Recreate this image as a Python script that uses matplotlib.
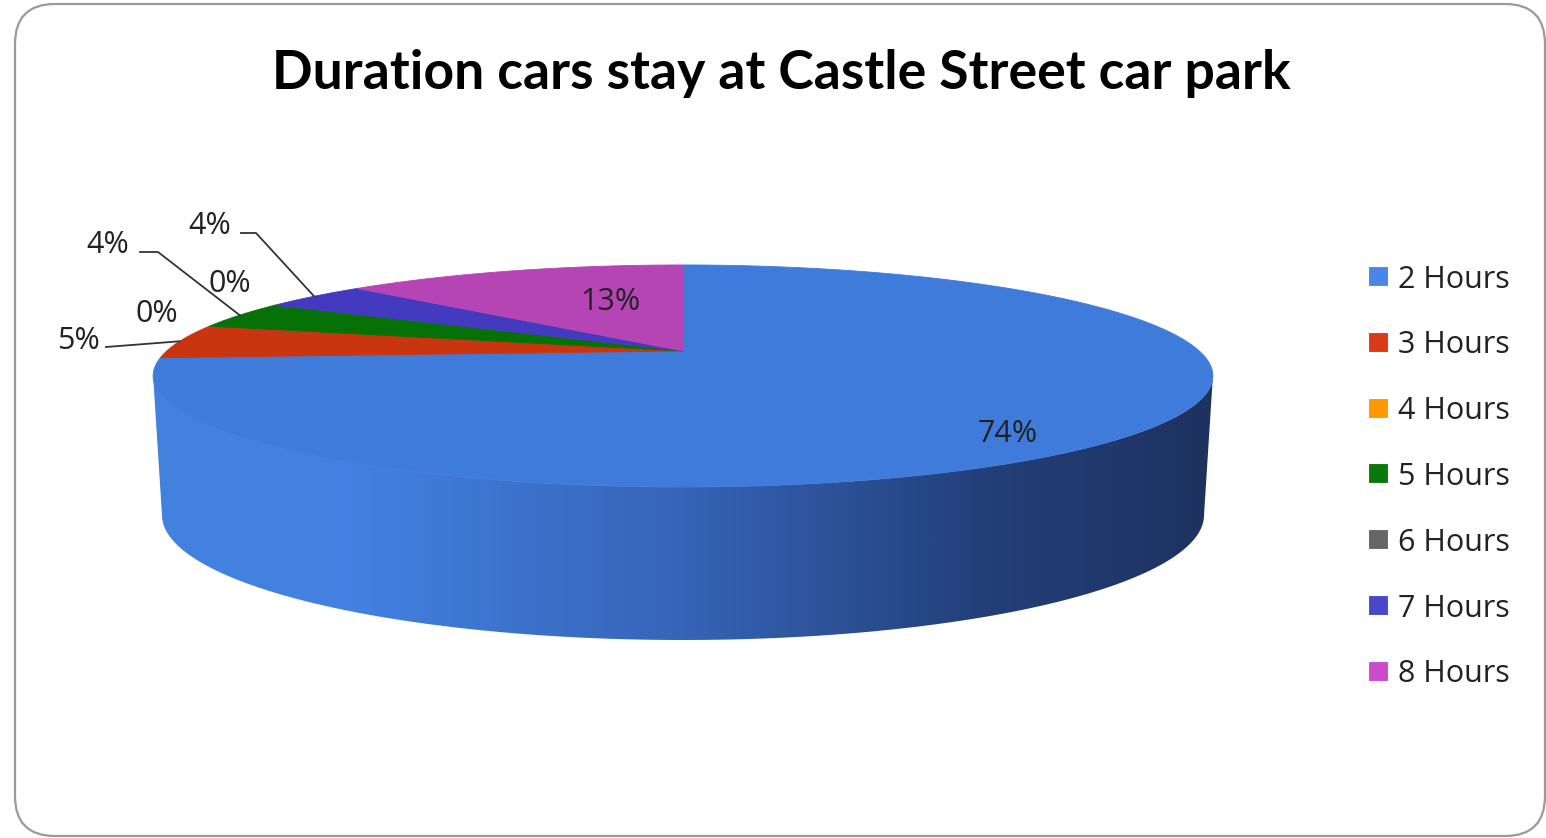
import matplotlib.pyplot as plt
import numpy as np
from matplotlib.patches import Polygon, FancyBboxPatch, Rectangle
from matplotlib.colors import LinearSegmentedColormap

categories = ['2 Hours', '3 Hours', '4 Hours', '5 Hours', '6 Hours', '7 Hours', '8 Hours']
shares = [74, 5, 0, 4, 0, 4, 13]
pct_labels = ['74%', '5%', '0%', '4%', '0%', '4%', '13%']
top_colors = ['#3f7bdb', '#c9350f', '#f08c00', '#067106', '#606060', '#433abf', '#b545b5']
legend_colors = ['#4a86e8', '#d93a17', '#ff9900', '#0a780a', '#666666', '#4848cc', '#cc4acc']
title = 'Duration cars stay at Castle Street car park'

# pie geometry in pixel space (perspective ellipse: top face and bottom face)
CX = 683
TOP = dict(cy=351, a=516.3, b=105.4, k=0.225)
BOT = dict(cy=490, a=510.5, b=120.0, k=0.2)

# label layout (pixel x-centre and baseline of text), and leader elbows
label_pos = [(1008, 442), (78, 349), (157, 322), (108, 253), (230, 292), (210, 234), (610, 310)]
leaders = {1: [(106, 347)], 3: [(140, 252), (158, 252)], 5: [(241, 233), (256, 233)]}

FONT = 'Open Sans'
FS = 22

side_cmap = LinearSegmentedColormap.from_list(
    'side', [(0.0, '#4381df'), (0.18, '#4382e2'), (0.5, '#3664b8'),
             (0.78, '#23407a'), (1.0, '#1e3260')])


def project(theta, face, r=1.0):
    X = r * np.sin(theta)
    Y = r * np.cos(theta)
    d = 1 + face['k'] * Y
    return CX + face['a'] * X / d, face['cy'] - face['b'] * Y / d


fig = plt.figure(figsize=(15.46, 8.38), dpi=100)
ax = fig.add_axes([0, 0, 1, 1])
ax.axis('off')

frame = FancyBboxPatch((15, 4), 1530, 832, boxstyle='round,pad=0,rounding_size=40',
                       fc='white', ec='#9a9a9a', lw=1.6, zorder=0)
ax.add_patch(frame)

fracs = np.array(shares, dtype=float) / sum(shares)
bounds = np.concatenate([[0], np.cumsum(fracs)]) * 2 * np.pi

# side of the cylinder: silhouette between the tangent points, filled with a gradient
tt = np.arccos(-TOP['k'])
tb = np.arccos(-BOT['k'])
top_arc = [project(t, TOP) for t in np.linspace(tt, 2 * np.pi - tt, 300)]
bot_arc = [project(t, BOT) for t in np.linspace(2 * np.pi - tb, tb, 300)]
side = Polygon(top_arc + bot_arc, closed=True, fc='none', ec='none')
ax.add_patch(side)
x_left = min(p[0] for p in top_arc)
x_right = max(p[0] for p in top_arc)
grad = np.linspace(0, 1, 512).reshape(1, -1)
im = ax.imshow(grad, cmap=side_cmap, aspect='auto', interpolation='bilinear',
               extent=(x_left, x_right, 700, 300), zorder=1)
im.set_clip_path(side)
ax.set_xlim(0, 1546)
ax.set_ylim(838, 0)

# top face
for i in range(len(shares)):
    t0, t1 = bounds[i], bounds[i + 1]
    if t1 - t0 <= 0:
        continue
    ts = np.linspace(t0, t1, max(3, int(np.degrees(t1 - t0))))
    pts = [(CX, TOP['cy'])] + [project(t, TOP) for t in ts]
    ax.add_patch(Polygon(pts, closed=True, fc=top_colors[i], ec=top_colors[i], lw=0.6, zorder=2))

# data labels and leader lines
for i, (lab, (lx, ly)) in enumerate(zip(pct_labels, label_pos)):
    ax.text(lx, ly, lab, fontsize=FS, family=FONT, color='#222222', ha='center', va='baseline',
            zorder=4)
    if i in leaders:
        mid = (bounds[i] + bounds[i + 1]) / 2
        ex, ey = project(mid, TOP)
        xs = [q[0] for q in leaders[i]] + [ex]
        ys = [q[1] for q in leaders[i]] + [ey]
        ax.plot(xs, ys, color='#333333', lw=1.3, zorder=3)

# legend
for i, (cat, col) in enumerate(zip(categories, legend_colors)):
    y = 276 + i * 65.8
    ax.add_patch(Rectangle((1368, y - 10), 20, 20, fc=col, ec='white', lw=0.8, zorder=2))
    ax.text(1398, y + 11.5, cat, fontsize=FS, family=FONT, color='#222222', ha='left',
            va='baseline', zorder=4)

ax.text(781, 89, title, fontsize=38.5, family='Lato', fontweight='bold', color='black',
        ha='center', va='baseline', zorder=4)

fig.savefig('out.png', dpi=100)
